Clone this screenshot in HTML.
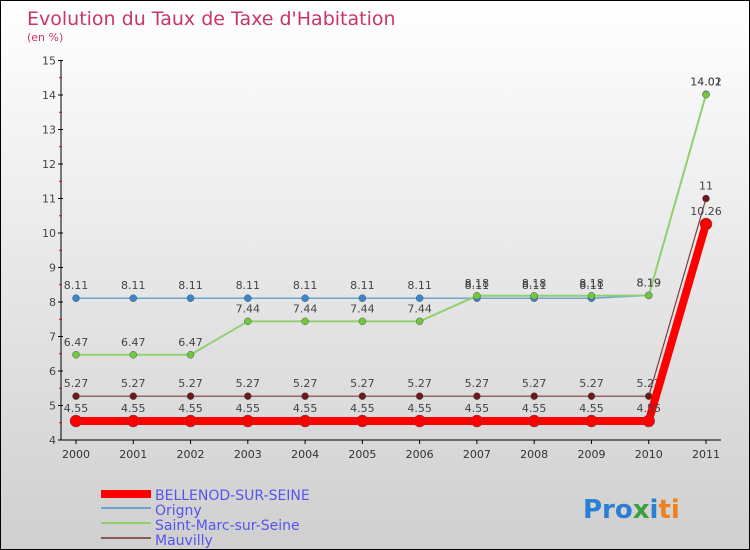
<!DOCTYPE html>
<html><head><meta charset="utf-8"><style>
body{margin:0}
#c{width:750px;height:550px;position:relative;overflow:hidden;box-sizing:border-box;border:1px solid #000;background:linear-gradient(#ffffff,#cfcfcf);font-family:"DejaVu Sans","Liberation Sans",sans-serif}
</style></head><body>
<div id="c">
<svg id="s" width="750" height="550" style="position:absolute;left:0;top:0">
<text x="26" y="24" font-size="19" fill="#c8356a">Evolution du Taux de Taxe d'Habitation</text>
<text x="26" y="40" font-size="11" fill="#c8356a">(en %)</text>
<g id="axes"></g><g id="series"></g>
<g font-size="14" fill="#5555ee">
<rect x="100" y="489" width="50" height="8" fill="#ff0000"/>
<text x="154" y="499">BELLENOD-SUR-SEINE</text>
<rect x="100" y="506" width="50" height="2" fill="#6fa3d0"/>
<text x="154" y="514">Origny</text>
<rect x="100" y="521" width="50" height="2" fill="#90d070"/>
<text x="154" y="529">Saint-Marc-sur-Seine</text>
<rect x="100" y="536" width="50" height="2" fill="#8a5a5a"/>
<text x="154" y="544">Mauvilly</text>
</g>
<text x="582" y="517" font-size="26" font-weight="bold"><tspan fill="#2a7fd4">Pro</tspan><tspan fill="#3aa040">x</tspan><tspan fill="#2a7fd4">i</tspan><tspan fill="#f08020">ti</tspan></text>
</svg>
</div>
<script>
const years=[2000,2001,2002,2003,2004,2005,2006,2007,2008,2009,2010,2011];
const yTicks=[4,5,6,7,8,9,10,11,12,13,14,15];
const bellenod=[4.55,4.55,4.55,4.55,4.55,4.55,4.55,4.55,4.55,4.55,4.55,10.26];
const origny=[8.11,8.11,8.11,8.11,8.11,8.11,8.11,8.11,8.11,8.11,8.19,14.02];
const saintMarc=[6.47,6.47,6.47,7.44,7.44,7.44,7.44,8.18,8.18,8.18,8.19,14.01];
const mauvilly=[5.27,5.27,5.27,5.27,5.27,5.27,5.27,5.27,5.27,5.27,5.27,11];
const NS="http://www.w3.org/2000/svg";
const X=i=>75+i*(630/11);
const Y=v=>439-(v-4)*34.5;
function mk(t,a,p){const e=document.createElementNS(NS,t);for(const k in a)e.setAttribute(k,a[k]);p.appendChild(e);return e;}
const ax=document.getElementById('axes');
const yl=mk('line',{x1:60,y1:Y(15),x2:60,y2:Y(4),stroke:'#000'},ax);


const xl=mk('line',{x1:60,y1:Y(4),x2:720,y2:Y(4),stroke:'#000'},ax);


yTicks.forEach(v=>{
  mk('line',{x1:57,y1:Y(v),x2:62,y2:Y(v),stroke:'#000'},ax);
  if(v<15)mk('line',{x1:58,y1:Y(v+0.5),x2:61,y2:Y(v+0.5),stroke:'#e00'},ax);
  const t=mk('text',{x:55,y:Y(v)+4,'font-size':11,fill:'#444','text-anchor':'end'},ax);t.textContent=v;
  
  
});
years.forEach((yr,i)=>{
  mk('line',{x1:X(i),y1:Y(4),x2:X(i),y2:Y(4)+4,stroke:'#000'},ax);
  const t=mk('text',{x:X(i),y:Y(4)+18,'font-size':11,fill:'#333','text-anchor':'middle'},ax);t.textContent=yr;
  
  
});
const sg=document.getElementById('series');
function draw(vals,color,w,r,name,dot){
  const g=mk('g',{},sg);
  
  
  mk('polyline',{points:vals.map((v,i)=>X(i)+','+Y(v)).join(' '),fill:'none',stroke:color,'stroke-width':w},g);
  vals.forEach((v,i)=>{
    const c=mk('circle',{cx:X(i),cy:Y(v),r:r,fill:dot,stroke:'#555','stroke-width':0.5},g);
    
    
    const t=mk('text',{x:X(i),y:Y(v)-9,'font-size':11,fill:'#444','text-anchor':'middle'},g);
    t.textContent=v;
    
    
  });
}
draw(mauvilly,'#7a4040',1.2,3.5,'series-mauvilly','#6a1a1a');
draw(origny,'#6fa3d0',1.5,3.5,'series-origny','#3a85d0');
draw(saintMarc,'#90d070',2,3.5,'series-saint-marc','#70c840');
draw(bellenod,'#ff0000',8,6,'series-bellenod','#ff0000');
</script>
</body></html>
